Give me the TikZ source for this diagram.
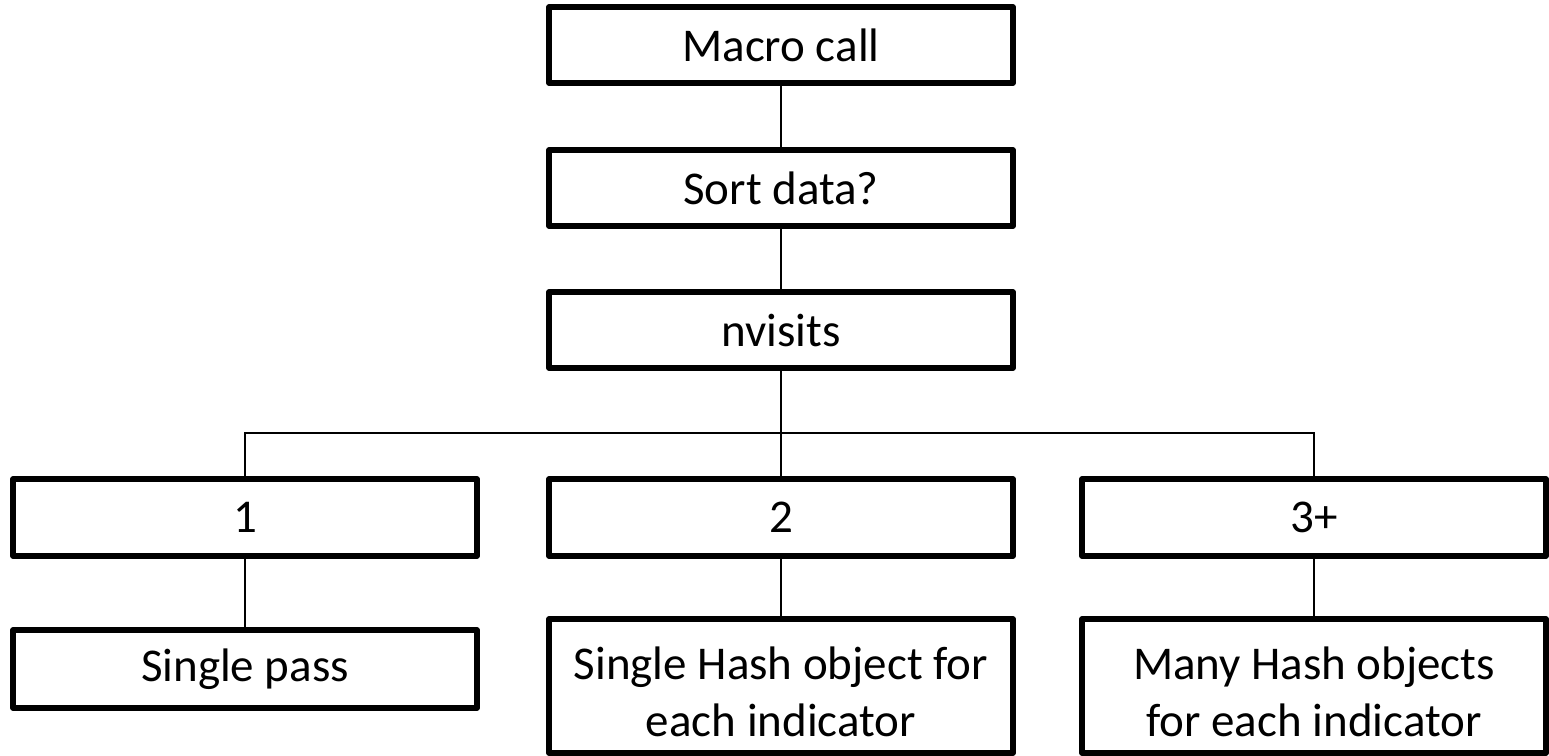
\documentclass[tikz,border=0pt]{standalone}
\usepackage{fontspec}
\setmainfont{Carlito}
\begin{document}
\begin{tikzpicture}[x=1pt,y=-1pt,
  box/.style={draw, line width=5.5pt, rectangle, minimum width=464pt, inner sep=0pt,
    font=\fontsize{47}{57.5}\selectfont, align=center, line join=round},
  conn/.style={line width=2pt},
  busline/.style={line width=1.5pt}]
\useasboundingbox (0,0) rectangle (1549,755);
\fill[white] (0,0) rectangle (1549,755);
\node[box, minimum height=76pt] (mc) at (781,45) {Macro call};
\node[box, minimum height=76pt] (sd) at (781,188) {Sort data?};
\node[box, minimum height=76pt] (nv) at (781,330) {nvisits};
\node[box, minimum height=77pt] (o1) at (245,517.5) {1};
\node[box, minimum height=77pt] (o2) at (781,517.5) {2};
\node[box, minimum height=77pt] (o3) at (1314,517.5) {3+};
\node[box, minimum height=78pt] (sp) at (245,669) {Single pass};
\node[box, minimum height=134pt] (sh) at (781,686) {\rule{0pt}{44pt}Single Hash object for\\each indicator};
\node[box, minimum height=134pt] (mh) at (1314,686) {\rule{0pt}{44pt}Many Hash objects\\for each indicator};
\coordinate (busc) at (781,433);
\draw[conn] (mc) -- (sd);
\draw[conn] (sd) -- (nv);
\draw[conn] (nv) -- (o2);
\draw[busline] (o1.north) |- (busc) -| (o3.north);
\draw[conn] (o1) -- (sp);
\draw[conn] (o2) -- (sh);
\draw[conn] (o3) -- (mh);
\end{tikzpicture}
\end{document}
